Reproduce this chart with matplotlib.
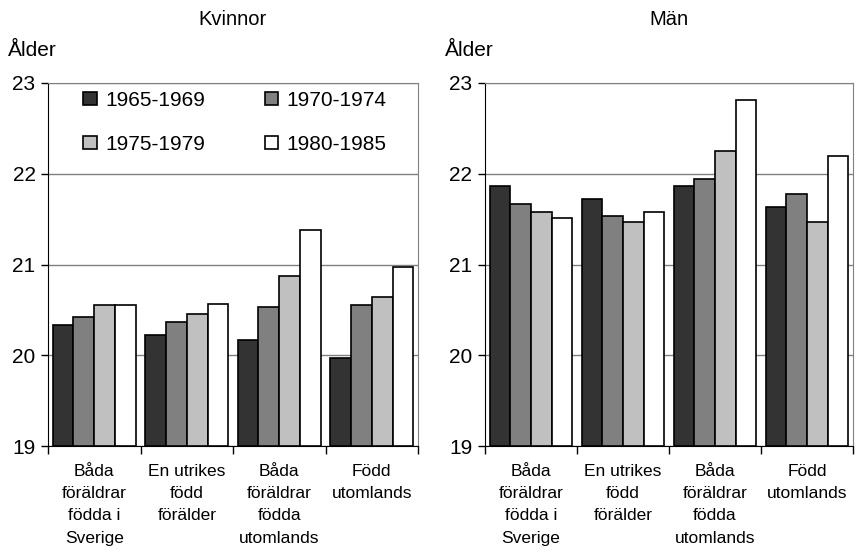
import numpy as np
import matplotlib.pyplot as plt

plt.rcParams['font.family'] = ['Liberation Sans', 'DejaVu Sans']

categories = ['Båda\nföräldrar\nfödda i\nSverige', 'En utrikes\nfödd\nförälder',
              'Båda\nföräldrar\nfödda\nutomlands', 'Född\nutomlands']
cohorts = ['1965-1969', '1970-1974', '1975-1979', '1980-1985']

kvinnor = [
    [20.33, 20.22, 20.17, 19.97],   # 1965-1969
    [20.42, 20.37, 20.53, 20.55],   # 1970-1974
    [20.55, 20.46, 20.87, 20.64],   # 1975-1979
    [20.55, 20.57, 21.38, 20.97],   # 1980-1985
]
man = [
    [21.87, 21.72, 21.87, 21.63],
    [21.67, 21.53, 21.94, 21.78],
    [21.58, 21.47, 22.25, 21.47],
    [21.51, 21.58, 22.81, 22.20],
]
colors = ['#333333', '#808080', '#c0c0c0', '#ffffff']
yticks = [19, 20, 21, 22, 23]


def draw(ax, data, title):
    x = np.arange(len(categories))
    w = 0.225
    for i, vals in enumerate(data):
        ax.bar(x - 1.5 * w + i * w, np.array(vals) - 19, bottom=19, width=w,
               color=colors[i], edgecolor='black', linewidth=1.2,
               label=cohorts[i], zorder=3)
    ax.set_ylim(19, 23)
    ax.set_xlim(-0.5, len(categories) - 0.5)
    ax.set_yticks(yticks)
    ax.yaxis.grid(True, color='#808080', linewidth=1, zorder=0)
    ax.tick_params(axis='y', labelsize=15, length=5, width=1, direction='out', pad=4)
    # boundary ticks without labels, labels centred on categories
    ax.set_xticks(np.arange(len(categories) + 1) - 0.5)
    ax.set_xticklabels([])
    ax.tick_params(axis='x', which='major', length=6, width=1, direction='out')
    ax.set_xticks(x, minor=True)
    ax.set_xticklabels(categories, minor=True, fontsize=12.5, linespacing=1.6)
    ax.tick_params(axis='x', which='minor', length=0, pad=13)
    for s in ['top', 'right']:
        ax.spines[s].set_color('#808080')
    for s in ['left', 'bottom']:
        ax.spines[s].set_color('black')
    ax.set_title(title, fontsize=14.5, pad=42)
    ax.annotate('Ålder', xy=(0, 1), xycoords='axes fraction', xytext=(-40, 33),
                textcoords='offset pixels', ha='left', va='center', fontsize=15)


fig = plt.figure(figsize=(8.56, 5.56), dpi=100)
ax1 = fig.add_axes([48 / 856, 1 - 446 / 556, 370 / 856, 363 / 556])
ax2 = fig.add_axes([485 / 856, 1 - 446 / 556, 368 / 856, 363 / 556])

draw(ax1, kvinnor, 'Kvinnor')
draw(ax2, man, 'Män')

# legend filled row by row
handles, labels = ax1.get_legend_handles_labels()
order = [0, 2, 1, 3]
ax1.legend([handles[i] for i in order], [labels[i] for i in order],
           loc='upper left', bbox_to_anchor=(0.045, 1.03), ncol=2, frameon=False,
           fontsize=15, handlelength=0.65, handleheight=0.65, handletextpad=0.4,
           columnspacing=2.85, labelspacing=1.2)

fig.savefig('out.png', dpi=100)
